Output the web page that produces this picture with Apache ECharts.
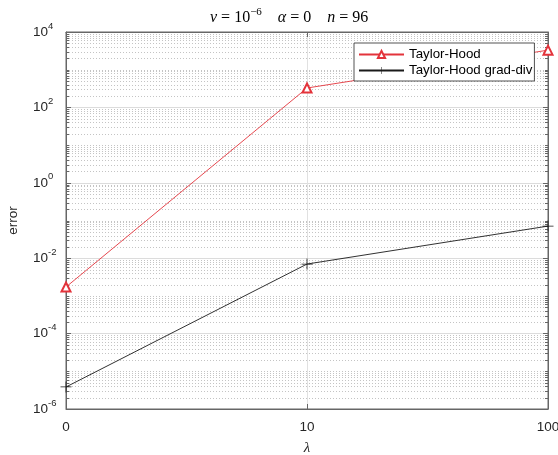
<!DOCTYPE html>
<html>
<head>
<meta charset="utf-8">
<script src="https://cdn.jsdelivr.net/npm/echarts@6/dist/echarts.min.js"></script>
<style>html,body{margin:0;padding:0;background:#fff;}#c{width:558px;height:455px;}</style>
</head>
<body>
<div id="c"></div>
<script>
// ---- data ----
var lambdas = ['0', '10', '100'];
var taylorHood = [1.72e-3, 3.27e2, 3.3e3];
var taylorHoodGradDiv = [3.84e-6, 7.0e-3, 7.1e-2];
var seriesNames = ['Taylor-Hood', 'Taylor-Hood grad-div'];
var yMinExp = -6, yMaxExp = 4;

// minor log grid positions (2..9 of each decade, plus odd decades)
var minorGridValues = [];
for (var d = yMinExp; d < yMaxExp; d++) {
  for (var k = 1; k <= 9; k++) {
    if (k === 1 && d % 2 === 0) continue;
    minorGridValues.push([0, k * Math.pow(10, d)]);
  }
}

var axisColor = '#666';
var sans = 'Liberation Sans, Arial, Helvetica, sans-serif';
var serif = 'Liberation Serif, Times New Roman, serif';

var chart = echarts.init(document.getElementById('c'));

function powLabel(v) {
  var e = Math.round(Math.log10(v));
  return '{b|10}{e|' + e + '}';
}
var powRich = {
  b: {fontSize: 13.5, fontFamily: sans, color: '#262626', lineHeight: 22, verticalAlign: 'middle'},
  e: {fontSize: 9.5, fontFamily: sans, color: '#262626', lineHeight: 11, verticalAlign: 'top'}
};

chart.setOption({
  animation: false,
  backgroundColor: '#fff',
  title: {
    text: '{i|ν}{r| = 10}{s|−6}{r|    }{i|α}{r| = 0}{r|    }{i|n}{r| = 96}',
    left: 205, top: 2,
    textStyle: {
      fontWeight: 'normal',
      rich: {
        i: {fontFamily: serif, fontStyle: 'italic', fontWeight: 'normal', fontSize: 16, color: '#000', lineHeight: 22, verticalAlign: 'middle'},
        r: {fontFamily: serif, fontWeight: 'normal', fontSize: 16, color: '#000', lineHeight: 22, verticalAlign: 'middle'},
        s: {fontFamily: serif, fontWeight: 'normal', fontSize: 11, color: '#000', lineHeight: 12, verticalAlign: 'top'}
      }
    }
  },
  legend: {
    data: seriesNames,
    orient: 'vertical',
    left: 354, top: 43,
    itemWidth: 45, itemHeight: 9, itemGap: 3,
    padding: [5, 2, 4, 4],
    borderColor: '#262626', borderWidth: 0.8,
    backgroundColor: '#fff',
    z: 20,
    textStyle: {fontFamily: sans, fontSize: 13.3, color: '#000', padding: [0, 0, 0, 0]}
  },
  grid: {
    left: 66, right: 10, top: 32, bottom: 46,
    outerBoundsMode: 'none', containLabel: false,
    show: true, borderColor: axisColor, borderWidth: 1, backgroundColor: 'transparent'
  },
  xAxis: [{
    type: 'category', data: lambdas, boundaryGap: false,
    name: 'λ', nameLocation: 'middle', nameGap: 32,
    nameTextStyle: {fontFamily: serif, fontStyle: 'italic', fontSize: 15, color: '#262626'},
    axisLine: {show: true, lineStyle: {color: axisColor}},
    axisTick: {show: true, inside: true, length: 5, lineStyle: {color: axisColor}},
    axisLabel: {fontFamily: sans, fontSize: 13.5, color: '#262626', margin: 11},
    splitLine: {show: true, lineStyle: {color: '#e1e1e1', width: 1}}
  }, {
    type: 'category', data: lambdas, boundaryGap: false, position: 'top',
    axisLine: {show: true, lineStyle: {color: axisColor}},
    axisTick: {show: true, inside: true, length: 5, lineStyle: {color: axisColor}},
    axisLabel: {show: false}, splitLine: {show: false}
  }],
  yAxis: [{
    type: 'log', logBase: 10, min: Math.pow(10, yMinExp), max: Math.pow(10, yMaxExp), interval: 2,
    name: 'error', nameLocation: 'middle', nameGap: 46,
    nameTextStyle: {fontFamily: sans, fontSize: 13.5, color: '#262626'},
    axisLine: {show: true, lineStyle: {color: axisColor}},
    axisTick: {show: true, inside: true, length: 5, lineStyle: {color: axisColor}},
    axisLabel: {formatter: powLabel, rich: powRich, align: 'left', margin: 33},
    splitLine: {show: true, lineStyle: {color: '#dcdcdc', width: 1}}
  }, {
    type: 'log', logBase: 10, min: Math.pow(10, yMinExp), max: Math.pow(10, yMaxExp), interval: 2,
    position: 'right',
    axisLine: {show: true, lineStyle: {color: axisColor}},
    axisTick: {show: true, inside: true, length: 5, lineStyle: {color: axisColor}},
    axisLabel: {show: false}, splitLine: {show: false}
  }],
  series: [{
    type: 'custom',
    silent: true,
    z: 1,
    data: minorGridValues,
    clip: false,
    renderItem: function (params, api) {
      var cs = params.coordSys;
      var y = Math.round(api.coord([0, api.value(1)])[1]) + 0.5;
      return {
        type: 'group',
        children: [{
          type: 'line',
          shape: {x1: cs.x, y1: y, x2: cs.x + cs.width, y2: y},
          style: {stroke: '#c4c4c4', lineWidth: 1, lineDash: [1, 2]}
        }, {
          type: 'line',
          shape: {x1: cs.x, y1: y, x2: cs.x + 3, y2: y},
          style: {stroke: axisColor, lineWidth: 1}
        }, {
          type: 'line',
          shape: {x1: cs.x + cs.width - 3, y1: y, x2: cs.x + cs.width, y2: y},
          style: {stroke: axisColor, lineWidth: 1}
        }]
      };
    }
  }, {
    name: seriesNames[0],
    type: 'line',
    data: taylorHood,
    z: 5,
    symbol: 'emptyTriangle',
    symbolSize: 9,
    showAllSymbol: true,
    clip: false,
    itemStyle: {color: '#e3333b', borderColor: '#e3333b', borderWidth: 0.9},
    lineStyle: {color: '#e3333b', width: 0.9}
  }, {
    name: seriesNames[1],
    type: 'line',
    data: taylorHoodGradDiv,
    z: 5,
    symbol: 'path://M-0.07,-1 L0.07,-1 L0.07,1 L-0.07,1 Z M-1,-0.07 L1,-0.07 L1,0.07 L-1,0.07 Z',
    symbolSize: 11,
    showAllSymbol: true,
    clip: false,
    itemStyle: {color: '#1a1a1a', borderWidth: 0},
    lineStyle: {color: '#1a1a1a', width: 0.9}
  }]
});
</script>
</body>
</html>
